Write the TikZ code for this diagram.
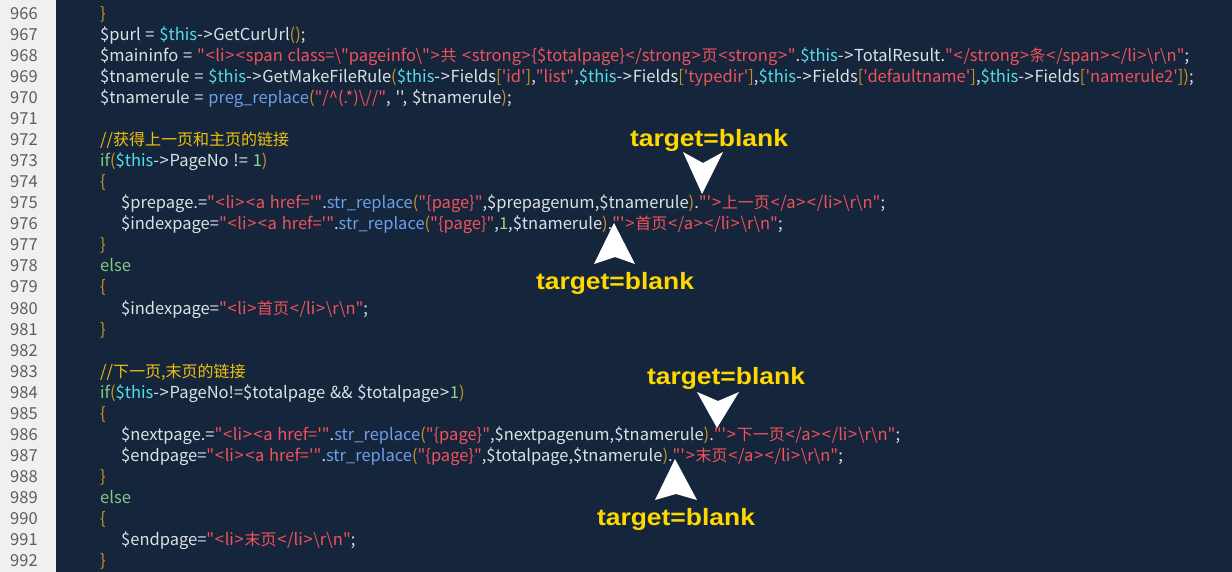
\documentclass[tikz,border=0pt]{standalone}
\usepackage{fontspec}
\usetikzlibrary{positioning}
\newfontfamily\codefont[WordSpace=1.3]{Noto Sans CJK SC}
\newfontfamily\notefont[FakeStretch=1.12]{Liberation Sans}

\definecolor{bgnavy}{HTML}{15263C}
\definecolor{guttergray}{HTML}{F0F0F0}
\definecolor{linegray}{HTML}{5E5E5E}
\definecolor{codevar}{HTML}{DCE1E6}
\definecolor{codethis}{HTML}{55DDE6}
\definecolor{codestr}{HTML}{F0525C}
\definecolor{codefn}{HTML}{6CA0E6}
\definecolor{codekw}{HTML}{84C884}
\definecolor{codenum}{HTML}{96D490}
\definecolor{codebrk}{HTML}{C8961E}
\definecolor{codecmt}{HTML}{F0C010}
\definecolor{noteyellow}{HTML}{FFD800}

\tikzstyle{codeline} = [anchor=base west, inner sep=0pt, text=codevar,
    font=\codefont\fontsize{16.5}{19}\selectfont]
\tikzstyle{lineno} = [anchor=base west, inner sep=0pt, text=linegray,
    font=\codefont\fontsize{16.5}{19}\selectfont]
\tikzstyle{note} = [anchor=base, inner sep=0pt, text=noteyellow,
    font=\notefont\bfseries\fontsize{23.6}{26}\selectfont]
\tikzstyle{pointer} = [fill=white]

\newcommand\Tt{\textcolor{codethis}{\$this}}
\newcommand\Ts[1]{\textcolor{codestr}{#1}}
\newcommand\Tf[1]{\textcolor{codefn}{#1}}
\newcommand\Tk[1]{\textcolor{codekw}{#1}}
\newcommand\Tn[1]{\textcolor{codenum}{#1}}
\newcommand\Tb[1]{\textcolor{codebrk}{#1}}
\newcommand\Tc[1]{\textcolor{codecmt}{#1}}
\newcommand\bs{\textbackslash}
\newcommand\lt{\kern0.7pt<\kern0.7pt}
\newcommand\gt{\kern0.7pt>\kern0.7pt}
\newcommand\arr{-\gt}
\newcommand\cj[1]{{\fontsize{16}{19}\selectfont #1}}

\begin{document}
\begin{tikzpicture}[x=1pt, y=-1pt]
\useasboundingbox (0,0) rectangle (1232,572);
\fill[bgnavy] (0,0) rectangle (1232,572);
\fill[guttergray] (0,0) rectangle (56,572);

%------------ Zeilennummern ---------------------
\foreach \n in {966,...,992}
    \node[lineno] (n\n) at (10, {20+21*(\n-966)}) {\n};

%------------ Code ---------------------
\node[codeline] (l966) at (100,20) {\Tb{\}}};
\node[codeline] (l967) at (100,41) {\$purl = \Tt\arr GetCurUrl\Tb{()};};
\node[codeline] (l968) at (100,62) {\$maininfo = \Ts{"\lt li\gt\lt span class=\bs"pageinfo\bs"\gt\cj{共} \lt strong\gt\{\$totalpage\}\lt/strong\gt\cj{页}\lt strong\gt"}.\Tt\arr TotalResult.\Ts{"\lt/strong\gt\cj{条}\lt/span\gt\lt/li\gt\bs r\bs n"};};
\node[codeline] (l969) at (100,83) {\$tnamerule = \Tt\arr GetMakeFileRule\Tb{(}\Tt\arr Fields\Tb{[}\Ts{'id'}\Tb{]},\Ts{"list"},\Tt\arr Fields\Tb{[}\Ts{'typedir'}\Tb{]},\Tt\arr Fields\Tb{[}\Ts{'defaultname'}\Tb{]},\Tt\arr Fields\Tb{[}\Ts{'namerule2'}\Tb{])};};
\node[codeline] (l970) at (100,104) {\$tnamerule = \Tf{preg\_replace}\Tb{(}\Ts{"/\textasciicircum(.*)\bs//"}, '', \$tnamerule\Tb{)};};

\node[codeline] (l972) at (100,146) {\Tc{//\cj{获得上一页和主页的链接}}};
\node[codeline] (l973) at (100,167) {\Tk{if}\Tb{(}\Tt\arr PageNo != \Tn{1}\Tb{)}};
\node[codeline] (l974) at (100,188) {\Tb{\{}};
\node[codeline] (l975) at (121,209) {\$prepage.=\Ts{"\lt li\gt\lt a href='"}.\Tf{str\_replace}\Tb{(}\Ts{"\{page\}"},\$prepagenum,\$tnamerule\Tb{)}.\Ts{"'\gt\cj{上一页}\lt/a\gt\lt/li\gt\bs r\bs n"};};
\node[codeline] (l976) at (121,230) {\$indexpage=\Ts{"\lt li\gt\lt a href='"}.\Tf{str\_replace}\Tb{(}\Ts{"\{page\}"},\Tn{1},\$tnamerule\Tb{)}.\Ts{"'\gt\cj{首页}\lt/a\gt\lt/li\gt\bs r\bs n"};};
\node[codeline] (l977) at (100,251) {\Tb{\}}};
\node[codeline] (l978) at (100,272) {\Tk{else}};
\node[codeline] (l979) at (100,293) {\Tb{\{}};
\node[codeline] (l980) at (121,314) {\$indexpage=\Ts{"\lt li\gt\cj{首页}\lt/li\gt\bs r\bs n"};};
\node[codeline] (l981) at (100,335) {\Tb{\}}};

\node[codeline] (l983) at (100,377) {\Tc{//\cj{下一页,末页的链接}}};
\node[codeline] (l984) at (100,398) {\Tk{if}\Tb{(}\Tt\arr PageNo!=\$totalpage \&\& \$totalpage\gt\Tn{1}\Tb{)}};
\node[codeline] (l985) at (100,419) {\Tb{\{}};
\node[codeline] (l986) at (121,440) {\$nextpage.=\Ts{"\lt li\gt\lt a href='"}.\Tf{str\_replace}\Tb{(}\Ts{"\{page\}"},\$nextpagenum,\$tnamerule\Tb{)}.\Ts{"'\gt\cj{下一页}\lt/a\gt\lt/li\gt\bs r\bs n"};};
\node[codeline] (l987) at (121,461) {\$endpage=\Ts{"\lt li\gt\lt a href='"}.\Tf{str\_replace}\Tb{(}\Ts{"\{page\}"},\$totalpage,\$tnamerule\Tb{)}.\Ts{"'\gt\cj{末页}\lt/a\gt\lt/li\gt\bs r\bs n"};};
\node[codeline] (l988) at (100,482) {\Tb{\}}};
\node[codeline] (l989) at (100,503) {\Tk{else}};
\node[codeline] (l990) at (100,524) {\Tb{\{}};
\node[codeline] (l991) at (121,545) {\$endpage=\Ts{"\lt li\gt\cj{末页}\lt/li\gt\bs r\bs n"};};
\node[codeline] (l992) at (100,566) {\Tb{\}}};

%------------ Hinweise target=blank ---------------------
\node[note] (tb1) at (709,147) {target=blank};
\node[note] (tb2) at (615,289) {target=blank};
\node[note] (tb3) at (726,384) {target=blank};
\node[note] (tb4) at (676,525) {target=blank};

\fill[pointer] (683,152) -- (703,163) -- (723,152) -- (702,194) -- cycle;
\fill[pointer] (614,223) -- (635,264) -- (615,257) -- (594,264) -- cycle;
\fill[pointer] (697,392) -- (718,401) -- (739,392) -- (717,428) -- cycle;
\fill[pointer] (675,459) -- (697,500) -- (676,494) -- (655,500) -- cycle;
\end{tikzpicture}
\end{document}
